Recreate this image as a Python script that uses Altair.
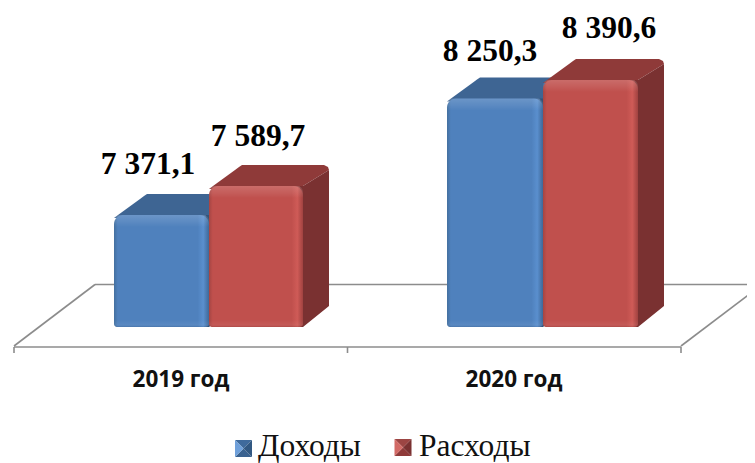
import altair as alt
import pandas as pd

categories = ["2019 год", "2020 год"]
income = [7371.1, 8250.3]
expense = [7589.7, 8390.6]
series_names = ["Доходы", "Расходы"]
labels_income = ["7 371,1", "8 250,3"]
labels_expense = ["7 589,7", "8 390,6"]

W, H = 739, 455
PX_PER_VAL = 0.1325


def ux(px):
    return (px - 14) / 333.5


def vy(py):
    return 7371.1 + (215 - py) / PX_PER_VAL


XS = alt.Scale(domain=[ux(8), ux(8 + W)], nice=False, zero=False)
YS = alt.Scale(domain=[vy(8 + H), vy(8)], nice=False, zero=False)
X = alt.X("x:Q", scale=XS, axis=None)
Y = alt.Y("y:Q", scale=YS, axis=None)

BASE = vy(327)
PXU = 1 / 333.5
PXV = 1 / PX_PER_VAL
DX = 26 * PXU
DXL = 33 * PXU
DY = 21 * PXV
BAR_L = {"blue": [ux(114), ux(447)], "red": [ux(209), ux(543)]}
BAR_R = {"blue": [ux(209), ux(543)], "red": [ux(303), ux(638)]}
TOP_COL = {"blue": "#3e6593", "red": "#8f3a39"}
SIDE_COL = {"blue": "#335379", "red": "#7a3131"}
HGRAD = {
    "blue": ["#44709f", "#4f81bd", "#4f81bd", "#5a8fce", "#3f6898"],
    "red": ["#a54543", "#c0504d", "#c0504d", "#cf5b57", "#a04240"],
}


def bar_layers(key, vals):
    out = []
    top_rows, side_rows, front_rows = [], [], []
    for i, v in enumerate(vals):
        l, r = BAR_L[key][i], BAR_R[key][i]
        top_rows += [
            {"b": i, "y": v - 3 * PXV, "x": l, "x2": r},
            {"b": i, "y": v, "x": l + 4 * PXU, "x2": r},
            {"b": i, "y": v + DY - 5 * PXV, "x": l + DXL - 7 * PXU, "x2": r + DX},
            {"b": i, "y": v + DY - 2 * PXV, "x": l + DXL - 3 * PXU, "x2": r + DX - 1 * PXU},
            {"b": i, "y": v + DY, "x": l + DXL, "x2": r + DX - 5 * PXU},
        ]
        side_rows += [
            {"b": i, "x": r - 3 * PXU, "y": v, "y2": BASE},
            {"b": i, "x": r, "y": v, "y2": BASE},
            {"b": i, "x": r + DX, "y": v + DY - 5 * PXV, "y2": BASE + DY},
        ]
        front_rows.append({"x": l, "x2": r, "y": v, "y2": BASE})
    out.append(
        alt.Chart(pd.DataFrame(top_rows))
        .mark_area(orient="horizontal", color=TOP_COL[key])
        .encode(y=Y, x=X, x2="x2:Q", detail="b:N")
    )
    out.append(
        alt.Chart(pd.DataFrame(side_rows))
        .mark_area(color=SIDE_COL[key])
        .encode(x=X, y=Y, y2="y2:Q", detail="b:N")
    )
    stops = HGRAD[key]
    hgrad = alt.LinearGradient(
        gradient="linear", x1=0, x2=1, y1=0, y2=0,
        stops=[
            alt.GradientStop(offset=0, color=stops[0]),
            alt.GradientStop(offset=0.04, color=stops[1]),
            alt.GradientStop(offset=0.88, color=stops[2]),
            alt.GradientStop(offset=0.94, color=stops[3]),
            alt.GradientStop(offset=1, color=stops[4]),
        ],
    )
    fdf = pd.DataFrame(front_rows)
    out.append(
        alt.Chart(fdf)
        .mark_bar(color=hgrad, cornerRadiusTopLeft=9, cornerRadiusTopRight=9,
                  cornerRadiusBottomLeft=3, cornerRadiusBottomRight=3)
        .encode(x=X, x2="x2:Q", y=Y, y2="y2:Q")
    )
    # bevel strips along the top and the bottom of each front face
    bevel = alt.LinearGradient(
        gradient="linear", x1=0, x2=0, y1=0, y2=1,
        stops=[
            alt.GradientStop(offset=0, color="rgba(255,255,255,0.16)"),
            alt.GradientStop(offset=0.6, color="rgba(255,255,255,0.07)"),
            alt.GradientStop(offset=1, color="rgba(255,255,255,0)"),
        ],
    )
    tdf = fdf.copy()
    tdf["y2"] = tdf["y"] - 12 * PXV
    out.append(
        alt.Chart(tdf)
        .mark_bar(color=bevel, cornerRadiusTopLeft=9, cornerRadiusTopRight=9)
        .encode(x=X, x2="x2:Q", y=Y, y2="y2:Q")
    )
    bdf = fdf.copy()
    bdf["y"] = BASE + 7 * PXV
    bevel_b = alt.LinearGradient(
        gradient="linear", x1=0, x2=0, y1=0, y2=1,
        stops=[
            alt.GradientStop(offset=0, color="rgba(255,255,255,0)"),
            alt.GradientStop(offset=0.7, color="rgba(255,255,255,0.06)"),
            alt.GradientStop(offset=1, color="rgba(0,0,0,0.10)"),
        ],
    )
    out.append(
        alt.Chart(bdf)
        .mark_bar(color=bevel_b, cornerRadiusBottomLeft=3, cornerRadiusBottomRight=3)
        .encode(x=X, x2="x2:Q", y=Y, y2="y2:Q")
    )
    return out


# floor of the 3D chart
FLOOR = "#8c8c8c"
floor_df = pd.DataFrame([
    {"x": ux(14), "x2": ux(681), "y": vy(347), "y2": vy(347)},
    {"x": ux(95), "x2": ux(755), "y": vy(284.5), "y2": vy(284.5)},
    {"x": ux(14), "x2": ux(95), "y": vy(346), "y2": vy(284.5)},
    {"x": ux(681), "x2": ux(755), "y": vy(346), "y2": vy(290)},
    {"x": ux(14), "x2": ux(14), "y": vy(347), "y2": vy(353)},
    {"x": ux(347.5), "x2": ux(347.5), "y": vy(347), "y2": vy(353)},
    {"x": ux(681), "x2": ux(681), "y": vy(347), "y2": vy(353)},
])
floor = alt.Chart(floor_df).mark_rule(color=FLOOR, strokeWidth=1.6).encode(
    x=X, x2="x2:Q", y=Y, y2="y2:Q"
)

cat_df = pd.DataFrame({"x": [ux(181), ux(514)], "y": [vy(387)] * 2, "t": categories})
cat_text = alt.Chart(cat_df).mark_text(
    font="Open Sans", fontWeight="bold", fontSize=22.5, color="#111111",
    align="center", baseline="alphabetic"
).encode(x=X, y=Y, text="t:N")

lab_df = pd.DataFrame({
    "x": [ux(148), ux(490), ux(258), ux(609)],
    "y": [vy(174), vy(61), vy(146), vy(38)],
    "t": labels_income + labels_expense,
})
lab_text = alt.Chart(lab_df).mark_text(
    font="Liberation Serif", fontWeight="bold", fontSize=31.5, color="#000000",
    align="center", baseline="alphabetic"
).encode(x=X, y=Y, text="t:N")

leg_df = pd.DataFrame({
    "x": [ux(258), ux(419)],
    "y": [vy(456), vy(456)],
    "t": series_names,
})
leg_text = alt.Chart(leg_df).mark_text(
    font="Liberation Serif", fontSize=31.5, color="#111111",
    align="left", baseline="alphabetic"
).encode(x=X, y=Y, text="t:N")

# pyramid-shaded legend keys
TRI = {
    "top": "M-1,-1L1,-1L0,0Z",
    "bottom": "M-1,1L1,1L0,0Z",
    "left": "M-1,-1L-1,1L0,0Z",
    "right": "M1,-1L1,1L0,0Z",
}
KEY_COL = [
    (ux(243.5), vy(448.5), {"top": "#3f6a9c", "bottom": "#3a6290", "left": "#6fa0da", "right": "#325882"}),
    (ux(403), vy(447.5), {"top": "#9c4543", "bottom": "#8f3a39", "left": "#d26a66", "right": "#7a3131"}),
]
key_layers = []
for kx, ky, cols in KEY_COL:
    for side, path in TRI.items():
        key_layers.append(
            alt.Chart(pd.DataFrame({"x": [kx], "y": [ky]}))
            .mark_point(shape=path, size=290, filled=True, opacity=1, color=cols[side], strokeWidth=0)
            .encode(x=X, y=Y)
        )

layers = [floor] + bar_layers("blue", income) + bar_layers("red", expense) + [
    cat_text, lab_text, leg_text
] + key_layers

chart = (
    alt.layer(*layers)
    .properties(width=W, height=H, padding=0,
                autosize=alt.AutoSizeParams(type="none"), background="#ffffff")
    .configure_view(stroke=None)
)
chart.save("out.html", embed_options={"renderer": "svg", "actions": False})
